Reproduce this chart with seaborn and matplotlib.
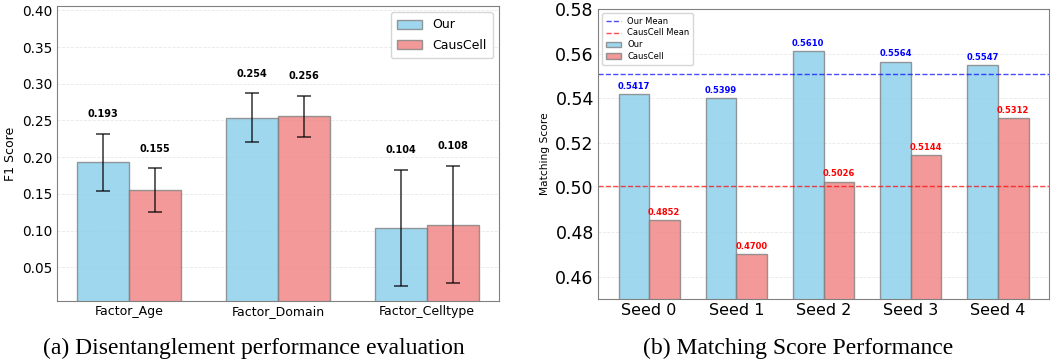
import numpy as np
import pandas as pd
import matplotlib
matplotlib.use("Agg")
import matplotlib.pyplot as plt
import seaborn as sns
from matplotlib.patches import Patch
from matplotlib.lines import Line2D

# panel (a) data
factors = ["Factor_Age", "Factor_Domain", "Factor_Celltype"]
f1_our = [0.193, 0.254, 0.104]
f1_caus = [0.155, 0.256, 0.108]
err_our = [0.039, 0.033, 0.079]
err_caus = [0.030, 0.028, 0.080]

# panel (b) data
seeds = ["Seed 0", "Seed 1", "Seed 2", "Seed 3", "Seed 4"]
match_our = [0.5417, 0.5399, 0.5610, 0.5564, 0.5547]
match_caus = [0.4852, 0.4700, 0.5026, 0.5144, 0.5312]

methods = ["Our", "CausCell"]
colors = {"Our": "skyblue", "CausCell": "lightcoral"}

sns.set_style("white")
plt.rcParams['font.family'] = ['DejaVu Sans']
plt.rcParams['text.color'] = 'black'
plt.rcParams['axes.labelcolor'] = 'black'
plt.rcParams['xtick.color'] = 'black'
plt.rcParams['ytick.color'] = 'black'

fig = plt.figure(figsize=(10.62, 3.62), dpi=100)
ax1 = fig.add_axes([57 / 1062, 61 / 362, 442 / 1062, 295 / 362])
ax2 = fig.add_axes([598 / 1062, 63 / 362, 451 / 1062, 290 / 362])

# ---- (a) F1 score
df_a = pd.DataFrame({
    "factor": factors * 2,
    "method": ["Our"] * 3 + ["CausCell"] * 3,
    "f1": f1_our + f1_caus,
})
sns.barplot(data=df_a, x="factor", y="f1", hue="method", palette=colors,
            saturation=1, width=0.7, alpha=0.8, edgecolor="gray", linewidth=1,
            errorbar=None, legend=False, ax=ax1)
x = np.arange(len(factors))
for off, vals, errs in [(-0.175, f1_our, err_our), (0.175, f1_caus, err_caus)]:
    ax1.errorbar(x + off, vals, yerr=errs, fmt="none", ecolor="black",
                 elinewidth=1.1, capsize=5, capthick=1.1, alpha=0.8)
    for xi, v, e in zip(x + off, vals, errs):
        ax1.text(xi, v + e + 0.02, f"{v:.3f}", ha="center", va="bottom",
                 fontsize=7, fontweight="bold")
ax1.set_xlim(-0.485, 2.485)
ax1.set_ylim(0.004, 0.406)
yt1 = np.arange(0.05, 0.401, 0.05)
ax1.set_yticks(yt1)
ax1.set_yticklabels([f"{t:.2f}" for t in yt1])
ax1.tick_params(axis="y", labelsize=9.8, length=0, pad=3)
ax1.tick_params(axis="x", labelsize=9, length=0, pad=3)
ax1.set_xlabel("")
ax1.set_ylabel("F1 Score", fontsize=9)
ax1.yaxis.grid(True, linestyle="--", color="lightgray", alpha=0.5, linewidth=0.6)
ax1.set_axisbelow(True)
for s in ax1.spines.values():
    s.set_color("gray")
ax1.legend(handles=[Patch(facecolor="skyblue", alpha=0.8, edgecolor="gray", label="Our"),
                    Patch(facecolor="lightcoral", alpha=0.8, edgecolor="gray", label="CausCell")],
           loc="upper right", fontsize=9, frameon=True, handlelength=2.0,
           borderpad=0.5, labelspacing=0.6)

# ---- (b) matching score
df_b = pd.DataFrame({
    "seed": seeds * 2,
    "method": ["Our"] * 5 + ["CausCell"] * 5,
    "score": match_our + match_caus,
})
sns.barplot(data=df_b, x="seed", y="score", hue="method", palette=colors,
            saturation=1, width=0.7, alpha=0.8, edgecolor="gray", linewidth=1,
            errorbar=None, legend=False, ax=ax2)
mean_our = np.mean(match_our)
mean_caus = np.mean(match_caus)
ax2.axhline(mean_our, color="blue", linestyle="--", linewidth=1, alpha=0.7)
ax2.axhline(mean_caus, color="red", linestyle="--", linewidth=1, alpha=0.7)
x = np.arange(len(seeds))
for off, vals, c in [(-0.175, match_our, "blue"), (0.175, match_caus, "red")]:
    for xi, v in zip(x + off, vals):
        ax2.text(xi, v + 0.0015, f"{v:.4f}", ha="center", va="bottom",
                 fontsize=6, fontweight="bold", color=c)
ax2.set_xlim(-0.585, 4.585)
ax2.set_ylim(0.45, 0.58)
yt = np.arange(0.46, 0.5801, 0.02)
ax2.set_yticks(yt)
ax2.set_yticklabels([f"{t:.2f}" for t in yt])
ax2.tick_params(axis="y", labelsize=12.5, length=0, pad=3)
ax2.tick_params(axis="x", labelsize=11.5, length=0, pad=3)
ax2.set_xlabel("")
ax2.set_ylabel("Matching Score", fontsize=7.7)
ax2.yaxis.grid(True, linestyle="--", color="lightgray", alpha=0.5, linewidth=0.6)
ax2.set_axisbelow(True)
for s in ax2.spines.values():
    s.set_color("gray")
ax2.legend(handles=[Line2D([], [], color="blue", linestyle="--", linewidth=1, alpha=0.7, label="Our Mean"),
                    Line2D([], [], color="red", linestyle="--", linewidth=1, alpha=0.7, label="CausCell Mean"),
                    Patch(facecolor="skyblue", alpha=0.8, edgecolor="gray", label="Our"),
                    Patch(facecolor="lightcoral", alpha=0.8, edgecolor="gray", label="CausCell")],
           loc="upper left", fontsize=6, frameon=True, handlelength=1.8,
           borderpad=0.4, labelspacing=0.35)

# captions
fig.text(254 / 1062, 1 - 348 / 362, "(a) Disentanglement performance evaluation",
         ha="center", va="center", fontsize=17, family="Liberation Serif")
fig.text(798 / 1062, 1 - 348 / 362, "(b) Matching Score Performance",
         ha="center", va="center", fontsize=17, family="Liberation Serif")

fig.savefig("out.png", dpi=100)
